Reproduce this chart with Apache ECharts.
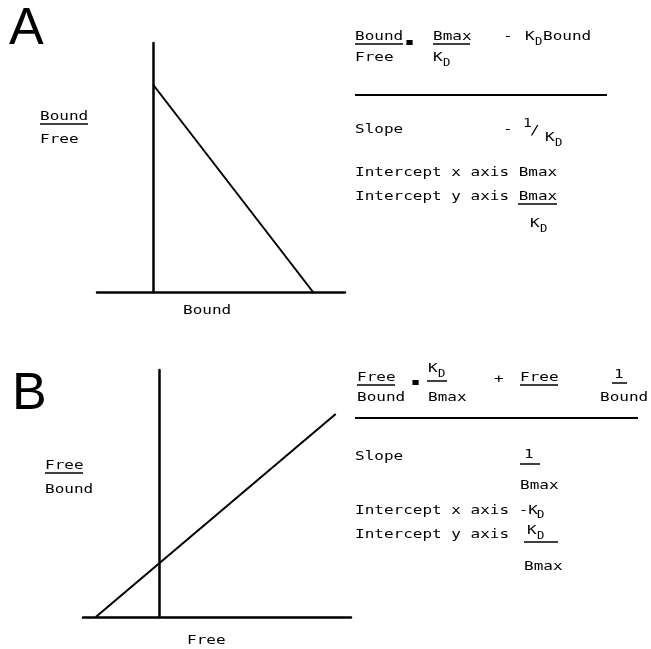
<!DOCTYPE html>
<html>
<head>
<meta charset="UTF-8">
<title>Scatchard and Hanes plots</title>
<script src="https://cdn.jsdelivr.net/npm/echarts@6/dist/echarts.min.js"></script>
<style>
  html, body { margin: 0; padding: 0; background: #fff; }
  #container { width: 651px; height: 649px; }
</style>
</head>
<body>
<div id="container"></div>
<script>
// plot A: Bound/Free against Bound
var boundA = [0, 10];
var ratioA = [10, 0];
// plot B: Free/Bound against Free
var freeB = [-5, 13.8];
var ratioB = [0, 3.7];

var ink = '#000';
var mono = '"DejaVu Sans Mono", monospace';

// text helper, stretched sideways like the old printer font
function t(x, y, s, size) {
  return {
    type: 'text', x: x, y: y, scaleX: 1.23, silent: true,
    style: { text: s, font: (size || 13) + 'px ' + mono, fill: ink, verticalAlign: 'middle' }
  };
}
function sub(x, y, s) { return t(x, y, s, 10); }
function rule(x1, y1, x2, y2, w) {
  return {
    type: 'line', silent: true,
    shape: { x1: x1, y1: y1, x2: x2, y2: y2 },
    style: { stroke: ink, lineWidth: w || 1.5 }
  };
}
function big(x, y, s) {
  return {
    type: 'text', x: x, y: y, silent: true,
    style: { text: s, font: '52px "Liberation Sans", sans-serif', fill: ink, verticalAlign: 'middle' }
  };
}

function pairs(xs, ys) {
  var out = [];
  for (var i = 0; i < xs.length; i++) out.push([xs[i], ys[i]]);
  return out;
}

function axis(min, max) {
  return {
    type: 'value', min: min, max: max,
    axisLine: { show: true, lineStyle: { color: ink, width: 2.5 } },
    axisTick: { show: false }, axisLabel: { show: false }, splitLine: { show: false }
  };
}

var labels = [
  // panel A
  big(9, 30, 'A'),
  t(40, 117, 'Bound'), rule(40, 124, 88, 124),
  t(40, 140, 'Free'),
  t(183, 311, 'Bound'),
  t(355, 37, 'Bound'), rule(355, 44, 403, 44),
  t(405, 43, '\u25AA'),
  t(433, 37, 'Bmax'), rule(433, 44, 470, 44),
  t(503, 37, '-'),
  t(525, 37, 'K'), sub(535, 42, 'D'), t(543, 37, 'Bound'),
  t(355, 58, 'Free'),
  t(433, 58, 'K'), sub(443, 63, 'D'),
  rule(355, 95, 607, 95, 2),
  t(355, 130, 'Slope'),
  t(503, 130, '-'),
  t(523, 124, '1', 12), t(530, 131, '/'),
  t(545, 138, 'K'), sub(555, 143, 'D'),
  t(355, 173, 'Intercept x axis Bmax'),
  t(355, 197, 'Intercept y axis Bmax'), rule(518, 204, 557, 204),
  t(530, 224, 'K'), sub(540, 229, 'D'),

  // panel B
  big(12, 395, 'B'),
  t(45, 466, 'Free'), rule(45, 473, 83, 473),
  t(45, 490, 'Bound'),
  t(187, 641, 'Free'),
  t(357, 378, 'Free'), rule(357, 385, 395, 385),
  t(411, 383, '\u25AA'),
  t(428, 369, 'K'), sub(438, 374, 'D'), rule(427, 381, 447, 381),
  t(494, 380, '+'),
  t(520, 378, 'Free'), rule(520, 385, 558, 385),
  t(614, 375, '1'), rule(612, 383, 627, 383),
  t(357, 398, 'Bound'),
  t(428, 398, 'Bmax'),
  t(600, 398, 'Bound'),
  rule(355, 418, 638, 418, 2),
  t(355, 457, 'Slope'),
  t(524, 455, '1'), rule(520, 464, 540, 464),
  t(520, 486, 'Bmax'),
  t(355, 511, 'Intercept x axis -K'), sub(537, 515, 'D'),
  t(355, 535, 'Intercept y axis'),
  t(527, 531, 'K'), sub(537, 536, 'D'), rule(524, 542, 558, 542),
  t(524, 567, 'Bmax')
];

var myChart = echarts.init(document.getElementById('container'), null, { renderer: 'canvas' });
var option = {
  animation: false,
  backgroundColor: '#fff',
  grid: [
    { left: 97, top: 43, width: 248, height: 249 },
    { left: 83, top: 370, width: 268, height: 247 }
  ],
  xAxis: [
    Object.assign(axis(-3.5, 12), { gridIndex: 0 }),
    Object.assign(axis(-6, 15), { gridIndex: 1 })
  ],
  yAxis: [
    Object.assign(axis(0, 12), { gridIndex: 0 }),
    Object.assign(axis(0, 4.5), { gridIndex: 1 })
  ],
  series: [
    {
      type: 'line', xAxisIndex: 0, yAxisIndex: 0,
      data: pairs(boundA, ratioA), symbol: 'none', silent: true,
      lineStyle: { color: ink, width: 2 }
    },
    {
      type: 'line', xAxisIndex: 1, yAxisIndex: 1,
      data: pairs(freeB, ratioB), symbol: 'none', silent: true,
      lineStyle: { color: ink, width: 2 }
    }
  ],
  graphic: { elements: labels }
};
myChart.setOption(option);
</script>
</body>
</html>
